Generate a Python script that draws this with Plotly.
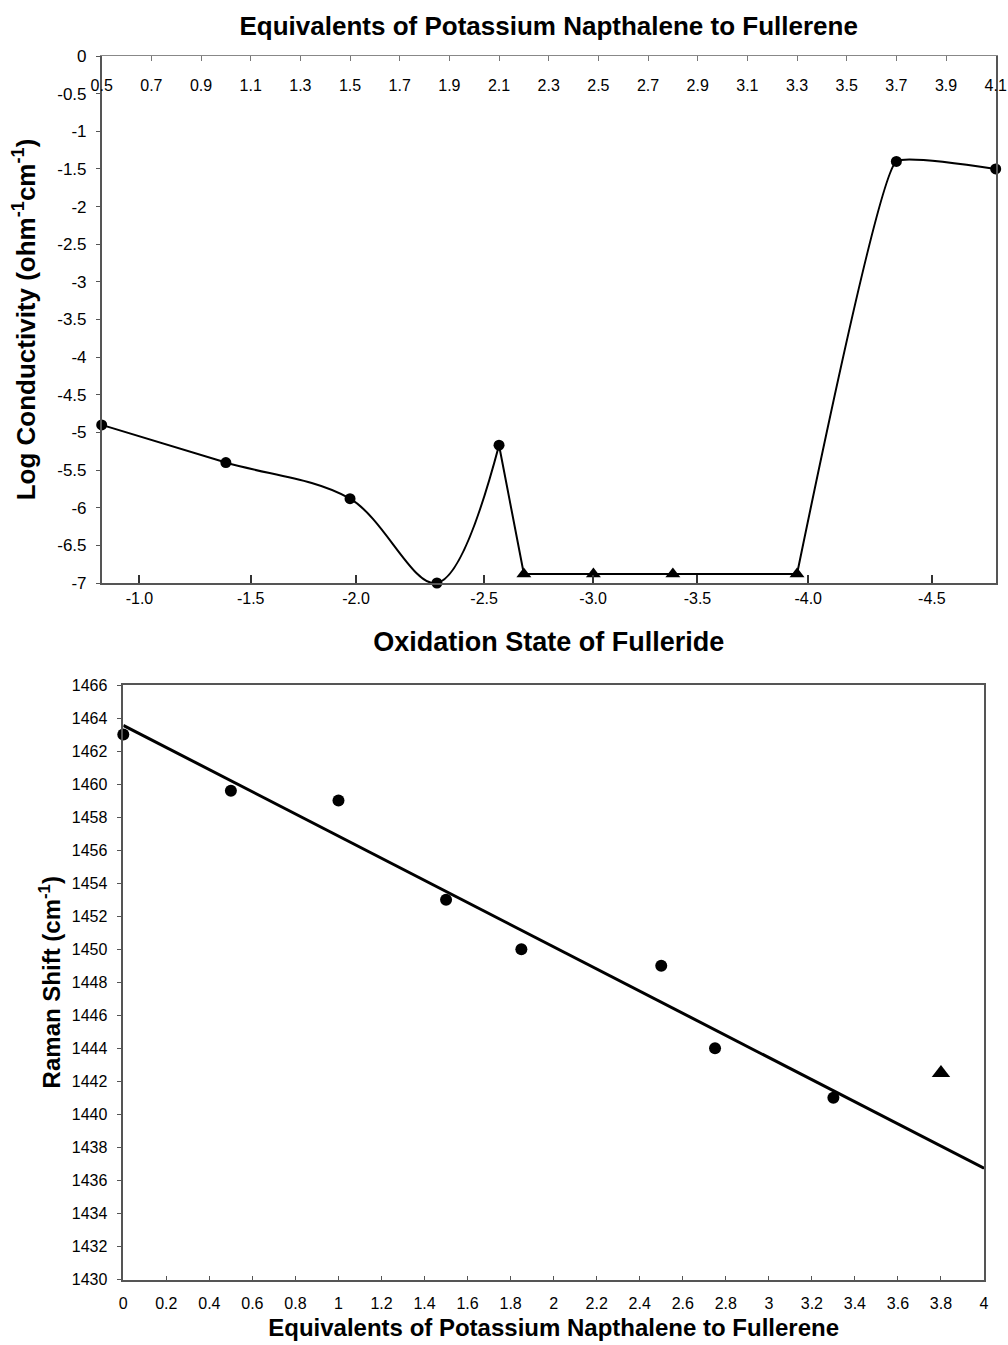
import numpy as np
import plotly.graph_objects as go

W, H = 1008, 1345

# ---------------- Top chart data (conductivity) ----------------
cond_equiv = [0.5, 1.0, 1.5, 1.85, 2.1, 2.2, 2.48, 2.8, 3.3, 3.7, 4.1]
cond_log = [-4.9, -5.4, -5.88, -7.0, -5.17, -6.88, -6.88, -6.88, -6.88, -1.4, -1.5]
cond_symbol = ["circle"] * 5 + ["triangle-up"] * 4 + ["circle"] * 2

equiv_top_ticks = [round(0.5 + 0.2 * i, 1) for i in range(19)]
oxid_tick_pos = [0.652, 1.100, 1.524, 2.040, 2.479, 2.899, 3.345, 3.843]
oxid_tick_text = ["-1.0", "-1.5", "-2.0", "-2.5", "-3.0", "-3.5", "-4.0", "-4.5"]
log_ticks = [round(-0.5 * i, 1) + 0.0 for i in range(15)]

# ---------------- Bottom chart data (Raman) ----------------
raman_equiv = [0.0, 0.5, 1.0, 1.5, 1.85, 2.5, 2.75, 3.3]
raman_shift = [1463.0, 1459.6, 1459.0, 1453.0, 1450.0, 1449.0, 1444.0, 1441.0]
raman_tri_equiv = [3.8]
raman_tri_shift = [1442.5]
raman_xticks = [round(0.2 * i, 1) for i in range(21)]
raman_yticks = list(range(1430, 1467, 2))

FONT = "Arial, Liberation Sans, sans-serif"
AX = "#555555"


def px_x(p):
    return p / W


def px_y(p):
    return 1 - p / H


def fmt(v):
    s = f"{v:g}"
    return "0" if s in ("-0", "0") else s


fig = go.Figure()

# curve pieces: smooth up to the peak, straight across the plateau, slight bend at the top
pieces = [(0, 5, "spline", 1.0), (4, 9, "linear", 0), (8, 11, "spline", 0.3)]
for a, b, shape, sm in pieces:
    line = dict(color="black", width=2, shape=shape)
    if shape == "spline":
        line["smoothing"] = sm
    fig.add_trace(go.Scatter(
        x=cond_equiv[a:b], y=cond_log[a:b], mode="lines", line=line,
        xaxis="x", yaxis="y", showlegend=False, hoverinfo="skip",
    ))

# markers drawn on the top (equivalents) axis, which shares the same range
fig.add_trace(go.Scatter(
    x=cond_equiv, y=cond_log, mode="markers",
    marker=dict(color="black", symbol=cond_symbol, opacity=1,
                size=[13 if s == "triangle-up" else 11 for s in cond_symbol],
                line=dict(width=0)),
    cliponaxis=False, xaxis="x2", yaxis="y", showlegend=False,
))

slope, intercept = np.polyfit(raman_equiv, raman_shift, 1)
fit_x = [0.0, 4.0]
fit_y = [intercept + slope * v for v in fit_x]

fig.add_trace(go.Scatter(
    x=fit_x, y=fit_y, mode="lines", line=dict(color="black", width=3),
    xaxis="x3", yaxis="y3", showlegend=False,
))
fig.add_trace(go.Scatter(
    x=raman_equiv, y=raman_shift, mode="markers",
    marker=dict(color="black", size=12, symbol="circle"),
    cliponaxis=False, xaxis="x3", yaxis="y3", showlegend=False,
))
fig.add_trace(go.Scatter(
    x=raman_tri_equiv, y=raman_tri_shift, mode="markers",
    marker=dict(color="black", size=16, symbol="triangle-up"),
    cliponaxis=False, xaxis="x3", yaxis="y3", showlegend=False,
))

tick_font = dict(family=FONT, size=16, color="black")
title_font = dict(family=FONT, size=26, color="black", weight="bold")

top_dom_x = [px_x(101.7), px_x(995.7)]
top_dom_y = [px_y(583), px_y(56)]
bot_dom_x = [px_x(123.3), px_x(984)]
bot_dom_y = [px_y(1279.5), px_y(685)]

fig.update_layout(
    template="none",
    width=W, height=H,
    margin=dict(l=0, r=0, t=0, b=0),
    paper_bgcolor="white", plot_bgcolor="white",
    showlegend=False,
    title=dict(text="Equivalents of Potassium Napthalene to Fullerene",
               font=title_font, x=(top_dom_x[0] + top_dom_x[1]) / 2, xanchor="center",
               y=px_y(26), yanchor="middle", xref="paper", yref="paper"),
    xaxis=dict(
        domain=top_dom_x, anchor="y", range=[0.5, 4.1],
        tickmode="array", tickvals=oxid_tick_pos, ticktext=oxid_tick_text,
        ticks="inside", ticklen=8, tickcolor="#333", tickwidth=1.5,
        showline=True, linecolor=AX, linewidth=1.5, mirror=False,
        showgrid=False, zeroline=False, automargin=False,
        tickfont=tick_font,
        title=dict(text="Oxidation State of Fulleride",
                   font=dict(family=FONT, size=27, color="black", weight="bold"), standoff=26),
    ),
    xaxis2=dict(
        domain=top_dom_x, anchor="y", overlaying="x", side="top",
        range=[0.5, 4.1],
        tickmode="array", tickvals=equiv_top_ticks,
        ticktext=[f"{v:.1f}" for v in equiv_top_ticks],
        ticks="inside", ticklen=5, tickcolor="#777",
        ticklabelposition="inside", ticklabeloverflow="allow", ticklabelstandoff=19,
        showline=True, linecolor="#888", linewidth=1.2,
        showgrid=False, zeroline=False, automargin=False,
        tickfont=tick_font,
    ),
    yaxis=dict(
        domain=top_dom_y, anchor="x", range=[-7, 0],
        tickmode="array", tickvals=log_ticks, ticktext=[fmt(v) for v in log_ticks],
        ticks="outside", ticklen=4, tickcolor="#555", ticklabelstandoff=6,
        showline=True, linecolor=AX, linewidth=1.5, mirror=True,
        showgrid=False, zeroline=False, automargin=False,
        tickfont=dict(family=FONT, size=17, color="black"),
        title=dict(text="Log Conductivity (ohm<sup>-1</sup>cm<sup>-1</sup>)",
                   font=title_font, standoff=14),
    ),
    xaxis3=dict(
        domain=bot_dom_x, anchor="y3", range=[0, 4],
        tickmode="array", tickvals=raman_xticks, ticktext=[fmt(v) for v in raman_xticks],
        ticks="inside", ticklen=4, tickcolor="#555", ticklabelstandoff=9,
        showline=True, linecolor=AX, linewidth=1.5, mirror=True,
        showgrid=False, zeroline=False, automargin=False,
        tickfont=tick_font,
        title=dict(text="Equivalents of Potassium Napthalene to Fullerene",
                   font=dict(family=FONT, size=24, color="black", weight="bold"), standoff=8),
    ),
    yaxis3=dict(
        domain=bot_dom_y, anchor="x3", range=[1430, 1466],
        tickmode="array", tickvals=raman_yticks, ticktext=[str(v) for v in raman_yticks],
        ticks="outside", ticklen=5, tickcolor="#555", ticklabelstandoff=6,
        showline=True, linecolor=AX, linewidth=1.5, mirror=True,
        showgrid=False, zeroline=False, automargin=False,
        tickfont=tick_font,
        title=dict(text="Raman Shift (cm<sup>-1</sup>)",
                   font=dict(family=FONT, size=24, color="black", weight="bold"), standoff=4),
    ),
)

fig.write_html("out.html")
